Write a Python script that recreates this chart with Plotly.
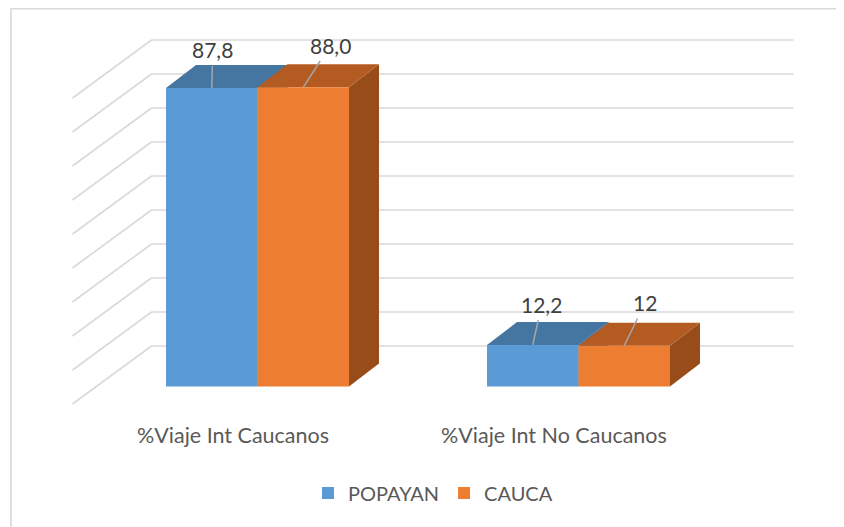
import plotly.graph_objects as go

# ---------------- data ----------------
categories = ["%Viaje Int Caucanos", "%Viaje Int No Caucanos"]
series_names = ["POPAYAN", "CAUCA"]
popayan = [87.8, 12.2]
cauca = [88.0, 12]
popayan_labels = ["87,8", "12,2"]
cauca_labels = ["88,0", "12"]
grid_values = [0, 10, 20, 30, 40, 50, 60, 70, 80, 90]

# ---------------- styling / geometry ----------------
OFF = 8                                  # page body margin in the browser
W, H = 844 - OFF, 527 - OFF
# screen-pixel geometry, converted to figure pixels by subtracting OFF
L, R, T, B = 60 - OFF, 800 - OFF, 10 - OFF, 420 - OFF
CAT0_PX, PX_PER_CAT = 257.5 - OFF, 321.0
ZERO_PX, PX_PER_UNIT = 386.5 - OFF, 3.4

def dx(px):
    return px / PX_PER_CAT

def dy(px):
    return px / PX_PER_UNIT

x_range = [(L - CAT0_PX) / PX_PER_CAT, (R - CAT0_PX) / PX_PER_CAT]
y_range = [(ZERO_PX - B) / PX_PER_UNIT, (ZERO_PX - T) / PX_PER_UNIT]

BARGAP = 0.43
BAR_W = (1 - BARGAP) / 2
DEPTH = (30, 23)        # bar depth offset in px (right, up)
GAP = (24.5, 17.5)      # gap between bars and floor front / back wall (px)
BACK = (DEPTH[0] + GAP[0], DEPTH[1] + GAP[1])

GRID_COLOR = "#D9D9D9"
front_colors = ["#5B9BD5", "#ED7D31"]
top_colors = ["#4575A1", "#B45B21"]
side_colors = ["#3A6690", "#984C1A"]
FONT = "Lato, 'Open Sans', sans-serif"

# per-label offsets of value labels (px, relative to front-top centre)
label_offsets = [[(1, -38), (9, -41)], [(27, -42), (21, -43)]]

series = [popayan, cauca]
labels = [popayan_labels, cauca_labels]

fig = go.Figure()
for s, (name, vals) in enumerate(zip(series_names, series)):
    fig.add_trace(go.Bar(
        x=list(range(len(categories))), y=vals, name=name,
        marker=dict(color=front_colors[s], line=dict(width=0)),
        hoverinfo="skip",
    ))

shapes = []
# back wall grid + left wall diagonals
wall_l, wall_r = -0.5, len(categories) - 0.5
for g in grid_values:
    shapes.append(dict(type="line", xref="x", yref="y", layer="below",
                       x0=wall_l + dx(BACK[0]), x1=wall_r + dx(BACK[0]),
                       y0=g + dy(BACK[1]), y1=g + dy(BACK[1]),
                       line=dict(color=GRID_COLOR, width=1.6)))
    shapes.append(dict(type="line", xref="x", yref="y", layer="below",
                       x0=wall_l - dx(GAP[0]), x1=wall_l + dx(BACK[0]),
                       y0=g - dy(GAP[1]), y1=g + dy(BACK[1]),
                       line=dict(color=GRID_COLOR, width=1.6)))

ddx, ddy = dx(DEPTH[0]), dy(DEPTH[1])
for s, vals in enumerate(series):
    for i, v in enumerate(vals):
        x0 = i - BAR_W + s * BAR_W
        x1 = x0 + BAR_W
        # side face
        shapes.append(dict(type="path", xref="x", yref="y", layer="below",
                           path=f"M{x1},0 L{x1},{v} L{x1+ddx},{v+ddy} L{x1+ddx},{ddy} Z",
                           fillcolor=side_colors[s], line=dict(width=0)))
        # top face
        shapes.append(dict(type="path", xref="x", yref="y", layer="below",
                           path=f"M{x0},{v} L{x1},{v} L{x1+ddx},{v+ddy} L{x0+ddx},{v+ddy} Z",
                           fillcolor=top_colors[s], line=dict(width=0)))

# chart frame (screen px -> paper)
def px_to_paper_x(px):
    return (px - OFF - L) / (R - L)

def px_to_paper_y(py):
    return (B - (py - OFF)) / (B - T)

shapes.append(dict(type="rect", xref="paper", yref="paper", layer="below",
                   x0=px_to_paper_x(11), x1=px_to_paper_x(870),
                   y0=px_to_paper_y(545), y1=px_to_paper_y(8.8),
                   line=dict(color=GRID_COLOR, width=1.6), fillcolor="rgba(0,0,0,0)"))

annotations = []
for s, vals in enumerate(series):
    for i, v in enumerate(vals):
        xc = i - BAR_W / 2 + s * BAR_W
        ax, ay = label_offsets[s][i]
        annotations.append(dict(x=xc, y=v, xref="x", yref="y", text=labels[s][i],
                                showarrow=True, arrowhead=0, arrowwidth=1.5,
                                arrowcolor="#A6A6A6", ax=ax, ay=ay, startstandoff=2,
                                font=dict(family=FONT, size=21, color="#404040")))

for i, c in enumerate(categories):
    annotations.append(dict(x=i - dx(GAP[0]), y=-dy(GAP[1]), xref="x", yref="y",
                            text=c, showarrow=False, yshift=-31,
                            xanchor="center", yanchor="middle",
                            font=dict(family=FONT, size=21.5, color="#595959")))

fig.update_layout(
    width=W, height=H,
    margin=dict(l=L, r=W - R, t=T, b=H - B, pad=0),
    paper_bgcolor="white", plot_bgcolor="white",
    barmode="group", bargap=BARGAP, bargroupgap=0,
    xaxis=dict(range=x_range, showgrid=False, zeroline=False, showticklabels=False,
               showline=False, ticks="", fixedrange=True),
    yaxis=dict(range=y_range, showgrid=False, zeroline=False, showticklabels=False,
               showline=False, ticks="", fixedrange=True),
    shapes=shapes,
    annotations=annotations,
    showlegend=True,
    legend=dict(orientation="h", x=px_to_paper_x(433), xanchor="center",
                y=px_to_paper_y(493), yanchor="middle",
                font=dict(family=FONT, size=20, color="#595959"),
                bgcolor="rgba(0,0,0,0)", itemclick=False, itemdoubleclick=False),
    font=dict(family=FONT),
)

fig.write_html("out.html")
